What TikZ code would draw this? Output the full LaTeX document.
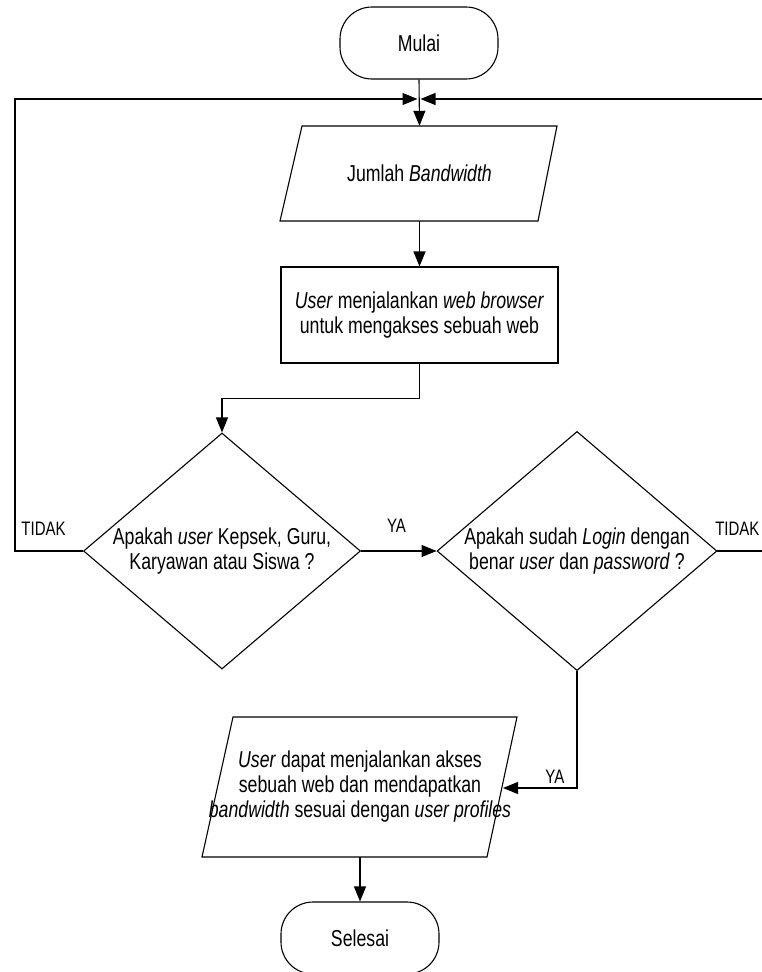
\documentclass[tikz,border=0pt]{standalone}
\usepackage{fontspec}
\setmainfont{Liberation Sans}[FakeStretch=0.77]
\usetikzlibrary{shapes.geometric,arrows.meta,calc}

\begin{document}
\begin{tikzpicture}[x=1pt,y=-1pt,
  every node/.style={font=\fontsize{23}{25}\selectfont},
  flow/.style={line width=1.1pt,draw=black},
  arr/.style={flow,-{Triangle[length=15pt,width=12pt]}},
  term/.style={flow,rectangle,rounded corners=32pt,minimum width=158pt,minimum height=72pt,inner sep=0pt},
  procbox/.style={flow,rectangle,minimum width=277pt,minimum height=96pt,inner sep=0pt,align=center},
  decision/.style={flow,diamond,aspect=1.17,minimum width=277pt,minimum height=236pt,inner sep=0pt,align=center},
  iobox/.style={rectangle,inner sep=0pt,align=center},
  lbl/.style={font=\fontsize{19.5}{22}\selectfont,anchor=base,inner sep=0pt}]
\useasboundingbox (0,0) rectangle (761,972);

% nodes
\node[term] (mulai) at (419,43) {Mulai};
\node[iobox,minimum width=256pt,minimum height=95pt] (jml) at (419.5,173.5) {Jumlah \textit{Bandwidth}};
\draw[flow] ($(jml.center)+(-117.5,-47.5)$) -- ($(jml.center)+(137.5,-47.5)$)
  -- ($(jml.center)+(118.5,47.5)$) -- ($(jml.center)+(-139.5,47.5)$) -- cycle;
\node[procbox] (proc) at (419.5,315) {\textit{User} menjalankan \textit{web browser}\\untuk mengakses sebuah web};
\node[decision] (d1) at (222,551) {Apakah \textit{user} Kepsek, Guru,\\Karyawan atau Siswa ?};
\node[decision] (d2) at (577,551) {Apakah sudah \textit{Login} dengan\\benar \textit{user} dan \textit{password} ?};
\node[iobox,minimum height=140pt] (out) at (360,787) {\textit{User} dapat menjalankan akses\\sebuah web dan mendapatkan\\\textit{bandwidth} sesuai dengan \textit{user profiles}};
\draw[flow] ($(out.center)+(-127,-70)$) -- ($(out.center)+(157,-70)$)
  -- ($(out.center)+(127,70)$) -- ($(out.center)+(-158,70)$) -- cycle;
\node[term] (selesai) at (360,938) {Selesai};

% junction points
\coordinate (jn) at (419,99);
\coordinate (loopL) at (15,99);
\coordinate (loopR) at (766,99);
\coordinate (outR) at ($(out.center)+(143,1)$);

% connectors
\draw[arr] (mulai.south) -- (jml.north);
\draw[arr] (d1.west) -- node[lbl,pos=0.58,yshift=16pt] {TIDAK} (d1.west -| loopL) |- ([xshift=-1.5pt]jn);
\draw[arr] (d2.east) -- node[lbl,pos=0.41,yshift=16pt] {TIDAK} (d2.east -| loopR) |- ([xshift=1.5pt]jn);
\draw[arr] (jml.south) -- (proc.north);
\draw[arr] (proc.south) -- ++(0,35) -| (d1.north);
\draw[arr] (d1.east) -- node[lbl,pos=0.47,yshift=19pt] {YA} (d2.west);
\draw[arr] (d2.south) |- node[lbl,pos=0.65,yshift=5pt] {YA} (outR);
\draw[arr] (out.south) -- (selesai.north);
\end{tikzpicture}
\end{document}
